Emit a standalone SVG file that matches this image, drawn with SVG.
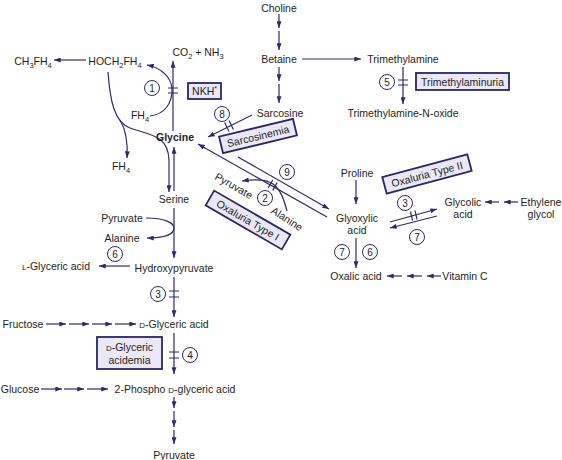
<svg xmlns="http://www.w3.org/2000/svg" width="562" height="460" viewBox="0 0 562 460">
<style>
.t{font-family:"Liberation Sans",Arial,sans-serif;font-size:10.5px;fill:#1e1e1e;text-anchor:middle}
.b{font-weight:bold}
.s{font-size:7.5px}
.ln{stroke:#2d2b6b;stroke-width:1.2;fill:none}
.a{marker-end:url(#ah)}
.box{fill:#ebe8f6;stroke:#2b2563;stroke-width:1.8}
.c{fill:#fff;stroke:#2d2b6b;stroke-width:1}
.n{font-family:"Liberation Sans",Arial,sans-serif;font-size:10px;fill:#1e1e1e;text-anchor:middle}
</style>
<defs>
<marker id="ah" viewBox="0 0 8 6" refX="8" refY="3" markerWidth="7" markerHeight="5" markerUnits="userSpaceOnUse" orient="auto"><path d="M0,0 L8,3 L0,6 z" fill="#2d2b6b"/></marker>
</defs>
<rect width="562" height="460" fill="#fff"/>

<g id="connectors">
<!-- Choline -> Betaine -->
<path class="ln a" d="M279,14 L279,28"/>
<path class="ln a" d="M279,31 L279,50"/>
<!-- Betaine -> Sarcosine -->
<path class="ln a" d="M279,67 L279,81"/>
<path class="ln a" d="M279,84 L279,103"/>
<!-- Betaine -> Trimethylamine -->
<path class="ln a" d="M302,59 L361,59"/>
<!-- Trimethylamine -> N-oxide -->
<path class="ln a" d="M403,67 L403,104"/>
<path class="ln" d="M398,80 L408,80 M398,85 L408,85"/>
<!-- Glycine -> CO2 + NH3 -->
<path class="ln a" d="M173,131 L173,61"/>
<path class="ln" d="M168,88 L178,88 M168,93 L178,93"/>
<!-- FH4 -> HOCH2FH4 -->
<path class="ln a" d="M150,116 C166,114 172,102 172,90 C172,78 162,68 147,65"/>
<!-- HOCH2FH4 -> CH3FH4 -->
<path class="ln a" d="M86,60 L54,60"/>
<!-- HOCH2FH4 -> Serine -->
<path class="ln a" d="M108,72 C110,100 114,122 130,128 C150,135 168,135 169,160 L169,192"/>
<!-- branch -> FH4 -->
<path class="ln a" d="M120,120 C126,130 128,142 127,158"/>
<!-- Serine -> Glycine -->
<path class="ln a" d="M174,191 L174,147"/>
<!-- Serine -> Hydroxypyruvate -->
<path class="ln a" d="M174,208 L174,258"/>
<!-- Pyruvate -> Alanine -->
<path class="ln a" d="M146,218 C165,218 174,223 174,228 C174,234 165,238 147,238"/>
<!-- Hydroxypyruvate -> L-Glyceric -->
<path class="ln a" d="M130,266 L99,266"/>
<!-- Hydroxypyruvate -> D-Glyceric -->
<path class="ln a" d="M174,277 L174,317"/>
<path class="ln" d="M169,291 L179,291 M169,297 L179,297"/>
<!-- Fructose -> D-Glyceric -->
<path class="ln a" d="M46,324 L66,324"/>
<path class="ln a" d="M69,324 L89,324"/>
<path class="ln a" d="M92,324 L112,324"/>
<path class="ln a" d="M115,324 L136,324"/>
<!-- D-Glyceric -> 2-Phospho -->
<path class="ln a" d="M174,333 L174,374"/>
<path class="ln" d="M169,352 L179,352 M169,358 L179,358"/>
<!-- Glucose -> 2-Phospho -->
<path class="ln a" d="M41,389 L62,389"/>
<path class="ln a" d="M64,389 L84,389"/>
<path class="ln a" d="M87,389 L108,389"/>
<!-- 2-Phospho -> Pyruvate -->
<path class="ln a" d="M174,397 L174,408"/>
<path class="ln a" d="M174,411 L174,427"/>
<path class="ln a" d="M174,430 L174,444"/>
<!-- Sarcosine -> Glycine -->
<path class="ln a" d="M252,115 L208,137"/>
<path class="ln" d="M224.6,122.6 L229,131.6 M229,120.4 L233.4,129.4"/>
<!-- Glyoxylic -> Glycine -->
<path class="ln a" d="M327,217 L198,144"/>
<path class="ln" d="M268.3,187.9 L272.7,180.1 M272.7,190.4 L277.1,182.6"/>
<!-- Glycine -> Glyoxylic -->
<path class="ln a" d="M238,157 L329,209"/>
<!-- Alanine -> Pyruvate (rotated) -->
<path class="ln a" d="M287,211 C284,200 281,190 273,184 C266,179 255,179 242,181"/>
<!-- Proline -> Glyoxylic -->
<path class="ln a" d="M356,180 L356,204"/>
<!-- Glyoxylic -> Oxalic -->
<path class="ln a" d="M356,238 L356,268"/>
<!-- Vitamin C -> Oxalic -->
<path class="ln a" d="M441,276 L427,276"/>
<path class="ln a" d="M422,276 L407,276"/>
<path class="ln a" d="M402,276 L387,276"/>
<!-- Ethylene glycol -> Glycolic -->
<path class="ln a" d="M518,202 L504,202"/>
<path class="ln a" d="M499,202 L485,202"/>
<!-- Glyoxylic <-> Glycolic -->
<path class="ln a" d="M390,222 L437,209"/>
<path class="ln" d="M410.5,211.5 L412.5,220.5 M415,210.3 L417,219.3"/>
<path class="ln a" d="M437,216 L390,228"/>
</g>

<g id="choline"><text class="t" x="279" y="12">Choline</text></g>
<g id="betaine"><text class="t" x="279" y="63">Betaine</text></g>
<g id="sarcosine"><text class="t" x="280" y="117">Sarcosine</text></g>
<g id="trimethylamine"><text class="t" x="403" y="63">Trimethylamine</text></g>
<g id="tmao"><text class="t" x="403" y="117">Trimethylamine-N-oxide</text></g>
<g id="ch3fh4"><text class="t" x="33" y="65">CH<tspan class="s" dy="2.5">3</tspan><tspan dy="-2.5">FH</tspan><tspan class="s" dy="2.5">4</tspan></text></g>
<g id="hoch2fh4"><text class="t" x="115" y="65">HOCH<tspan class="s" dy="2.5">2</tspan><tspan dy="-2.5">FH</tspan><tspan class="s" dy="2.5">4</tspan></text></g>
<g id="co2nh3"><text class="t" x="198" y="56">CO<tspan class="s" dy="2.5">2</tspan><tspan dy="-2.5"> + NH</tspan><tspan class="s" dy="2.5">3</tspan></text></g>
<g id="fh4a"><text class="t" x="140" y="119">FH<tspan class="s" dy="2.5">4</tspan></text></g>
<g id="fh4b"><text class="t" x="121" y="170">FH<tspan class="s" dy="2.5">4</tspan></text></g>
<g id="glycine"><text class="t b" x="175" y="141">Glycine</text></g>
<g id="serine"><text class="t" x="174" y="203">Serine</text></g>
<g id="pyruvate1"><text class="t" x="122" y="222">Pyruvate</text></g>
<g id="alanine1"><text class="t" x="122" y="242">Alanine</text></g>
<g id="hydroxypyruvate"><text class="t" x="174" y="272">Hydroxypyruvate</text></g>
<g id="lglyceric"><text class="t" x="56" y="270"><tspan style="font-size:8px">L</tspan>-Glyceric acid</text></g>
<g id="dglyceric"><text class="t" x="174" y="328"><tspan style="font-size:8px">D</tspan>-Glyceric acid</text></g>
<g id="fructose"><text class="t" x="23" y="328">Fructose</text></g>
<g id="phospho"><text class="t" x="175" y="393">2-Phospho <tspan style="font-size:8px">D</tspan>-glyceric acid</text></g>
<g id="glucose"><text class="t" x="20" y="393">Glucose</text></g>
<g id="pyruvate3"><text class="t" x="174" y="459">Pyruvate</text></g>
<g id="proline"><text class="t" x="357" y="177">Proline</text></g>
<g id="glyoxylic"><text class="t" x="357" y="222">Glyoxylic</text><text class="t" x="357" y="234">acid</text></g>
<g id="oxalic"><text class="t" x="356" y="280">Oxalic acid</text></g>
<g id="vitaminc"><text class="t" x="465" y="280">Vitamin C</text></g>
<g id="glycolic"><text class="t" x="463" y="206">Glycolic</text><text class="t" x="463" y="218">acid</text></g>
<g id="ethylene"><text class="t" x="541" y="206">Ethylene</text><text class="t" x="541" y="218">glycol</text></g>
<g id="pyruvate2"><text class="t" x="0" y="0" transform="translate(232,189) rotate(30)">Pyruvate</text></g>
<g id="alanine2"><text class="t" x="0" y="0" transform="translate(285,222) rotate(33)">Alanine</text></g>

<g id="nkh"><rect class="box" x="188" y="83" width="33" height="16"/><text class="t" x="204.5" y="95">NKH<tspan style="font-size:7px" dy="-4">*</tspan></text></g>
<g id="trimethylaminuria"><rect class="box" x="416" y="73" width="93" height="17"/><text class="t" x="462.5" y="85.5">Trimethylaminuria</text></g>
<g id="sarcosinemia" transform="translate(258,136) rotate(-13.5)"><rect class="box" x="-38" y="-8.5" width="76" height="17"/><text class="t" x="0" y="4">Sarcosinemia</text></g>
<g id="oxaluria1" transform="translate(248,220) rotate(30)"><rect class="box" x="-44" y="-8.5" width="88" height="17"/><text class="t" x="0" y="4">Oxaluria Type I</text></g>
<g id="oxaluria2" transform="translate(427,174) rotate(-15)"><rect class="box" x="-44" y="-8.5" width="88" height="17"/><text class="t" x="0" y="4">Oxaluria Type II</text></g>
<g id="dglycericacidemia"><rect class="box" x="97" y="337" width="65" height="32"/><text class="t" x="129.5" y="351"><tspan style="font-size:8px">D</tspan>-Glyceric</text><text class="t" x="129.5" y="364">acidemia</text></g>

<g id="enzymes">
<g id="e1"><circle class="c" cx="152" cy="88" r="7.5"/><text class="n" x="152" y="91.5">1</text></g>
<g id="e5"><circle class="c" cx="387" cy="82" r="7.5"/><text class="n" x="387" y="85.5">5</text></g>
<g id="e8"><circle class="c" cx="222" cy="114" r="7.5"/><text class="n" x="222" y="117.5">8</text></g>
<g id="e9"><circle class="c" cx="287" cy="172" r="7.5"/><text class="n" x="287" y="175.5">9</text></g>
<g id="e2"><circle class="c" cx="265" cy="198" r="7.5"/><text class="n" x="265" y="201.5">2</text></g>
<g id="e6a"><circle class="c" cx="115" cy="254" r="7.5"/><text class="n" x="115" y="257.5">6</text></g>
<g id="e3a"><circle class="c" cx="158" cy="294" r="7.5"/><text class="n" x="158" y="297.5">3</text></g>
<g id="e4"><circle class="c" cx="190" cy="355" r="7.5"/><text class="n" x="190" y="358.5">4</text></g>
<g id="e3b"><circle class="c" cx="405" cy="203" r="7.5"/><text class="n" x="405" y="206.5">3</text></g>
<g id="e7b"><circle class="c" cx="417" cy="237" r="7.5"/><text class="n" x="417" y="240.5">7</text></g>
<g id="e7a"><circle class="c" cx="342" cy="252" r="7.5"/><text class="n" x="342" y="255.5">7</text></g>
<g id="e6b"><circle class="c" cx="370" cy="252" r="7.5"/><text class="n" x="370" y="255.5">6</text></g>
</g>
</svg>
